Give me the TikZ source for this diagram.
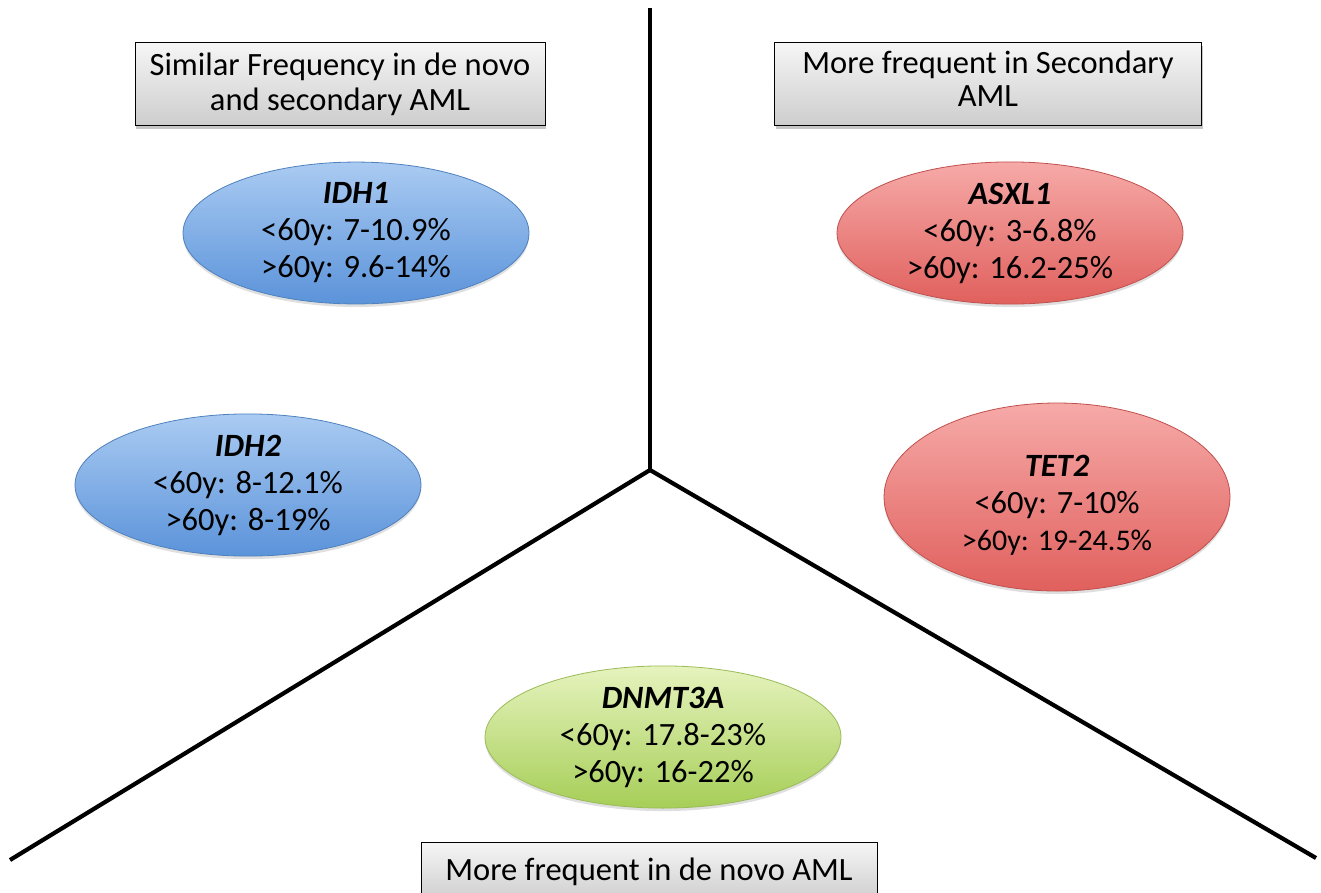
\documentclass[tikz,border=0pt]{standalone}
\usepackage{fontspec}
\setmainfont{Carlito}
\usetikzlibrary{shapes.geometric,shadows}

\definecolor{boxtop}{HTML}{F6F6F6}
\definecolor{boxbot}{HTML}{CDCDCD}
\definecolor{bluetop}{HTML}{AACBF2}
\definecolor{bluebot}{HTML}{5B93DA}
\definecolor{blueedge}{HTML}{4F81BD}
\definecolor{redtop}{HTML}{F6AAA8}
\definecolor{redbot}{HTML}{E0605D}
\definecolor{rededge}{HTML}{C0504D}
\definecolor{greentop}{HTML}{E6F3BE}
\definecolor{greenbot}{HTML}{A6CE57}
\definecolor{greenedge}{HTML}{9BBB59}

\tikzset{
  divider/.style={line width=4.2pt, black},
  catbox/.style={rectangle, draw=black, line width=1pt, top color=boxtop, bottom color=boxbot,
    drop shadow={opacity=0.45, shadow xshift=1pt, shadow yshift=-3pt},
    align=center, inner sep=0pt, font=\fontsize{32.5}{35}\selectfont},
  genetext/.style={align=center, inner sep=0pt, font=\fontsize{32.5}{37}\selectfont},
  gene/.style={ellipse, line width=0.8pt, genetext, minimum width=346pt,
    drop shadow={opacity=0.25, shadow xshift=0pt, shadow yshift=-3pt}},
  bluegene/.style={gene, draw=blueedge, top color=bluetop, bottom color=bluebot},
  redgene/.style={gene, draw=rededge, top color=redtop, bottom color=redbot},
  greengene/.style={gene, draw=greenedge, top color=greentop, bottom color=greenbot},
}

\begin{document}
\begin{tikzpicture}[x=1pt, y=-1pt]
  \useasboundingbox (0,0) rectangle (1321,892);
  \clip (0,0) rectangle (1321,892);

  % dividing lines
  \coordinate (hub) at (650,470);
  \coordinate (topend) at (650,8);
  \coordinate (leftend) at (10,860);
  \coordinate (rightend) at (1316,858);
  \draw[divider] (topend) -- (hub);
  \draw[divider] (hub) -- (leftend);
  \draw[divider] (hub) -- (rightend);

  % category boxes
  \node[catbox, minimum width=410pt, minimum height=83pt] (similar) at (340,84)
    {Similar Frequency in de novo\\and secondary AML};
  \node[catbox, minimum width=427pt, minimum height=83pt] (secondary) at (988,84)
    {More frequent in Secondary\\[-2pt]\raisebox{0pt}[\height][\dimexpr\depth+10pt]{AML}};
  \node[catbox, minimum width=456pt, minimum height=60pt] (denovo) at (649,872)
    {More frequent in de novo AML};

  % genes
  \node[bluegene, minimum height=134pt] (idh1) at (356,233)
    {\textbf{\textit{IDH1}}\\<60y: 7-10.9\%\\>60y: 9.6-14\%};
  \node[bluegene, minimum height=134pt] (idh2) at (248,485)
    {\textbf{\textit{IDH2}}\\<60y: 8-12.1\%\\>60y: 8-19\%};
  \node[redgene, minimum height=134pt] (asxl1) at (1010,233)
    {\textbf{\textit{ASXL1}}\\<60y: 3-6.8\%\\>60y: 16.2-25\%};
  \node[redgene, minimum height=188pt] (tet2) at (1057,497) {};
  \node[genetext] (tet2text) at (1057,505)
    {\textbf{\textit{TET2}}\\<60y: 7-10\%\\{\fontsize{30}{37}\selectfont >60y: 19-24.5\%}};
  \node[greengene, minimum width=356pt, minimum height=140pt] (dnmt3a) at (663,737)
    {\textbf{\textit{DNMT3A}}\\<60y: 17.8-23\%\\>60y: 16-22\%};
\end{tikzpicture}
\end{document}
